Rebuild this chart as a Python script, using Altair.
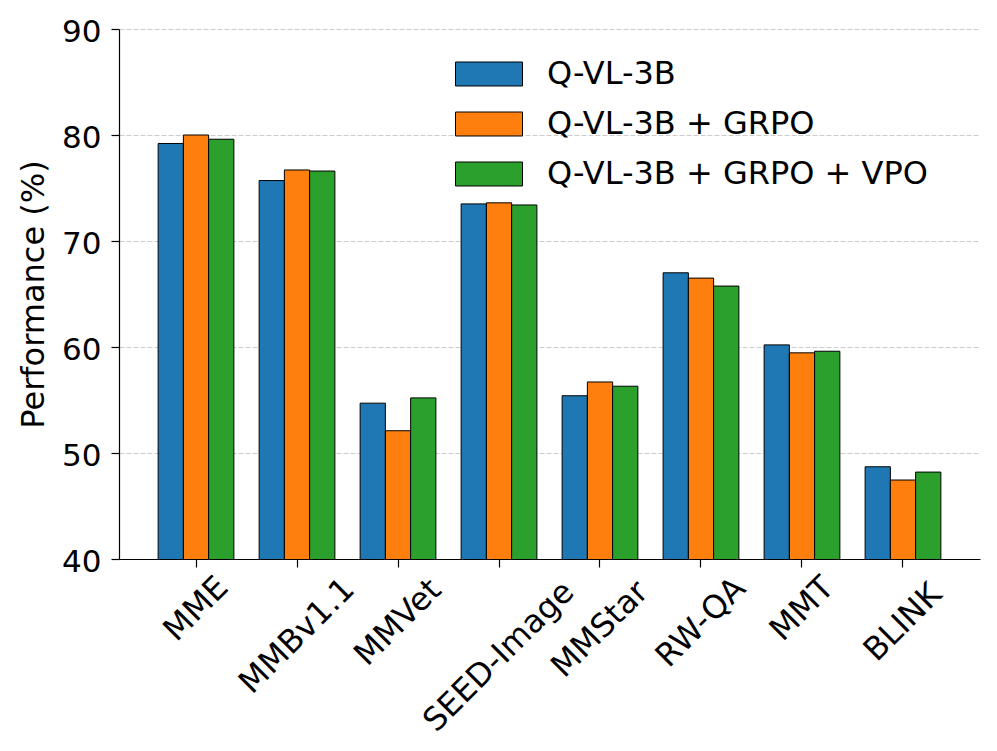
import altair as alt
import pandas as pd

categories = ["MME", "MMBv1.1", "MMVet", "SEED-Image", "MMStar", "RW-QA", "MMT", "BLINK"]
models = ["Q-VL-3B", "Q-VL-3B + GRPO", "Q-VL-3B + GRPO + VPO"]
base_vals = [79.2, 75.7, 54.7, 73.5, 55.4, 67.0, 60.2, 48.7]
grpo_vals = [80.0, 76.7, 52.1, 73.6, 56.7, 66.5, 59.45, 47.45]
vpo_vals = [79.6, 76.6, 55.2, 73.4, 56.3, 65.75, 59.6, 48.2]
colors = ["#1f77b4", "#ff7f0e", "#2ca02c"]
y_ticks = [40, 50, 60, 70, 80, 90]

rows = []
for m, vals in zip(models, [base_vals, grpo_vals, vpo_vals]):
    for c, v in zip(categories, vals):
        rows.append({"Benchmark": c, "Model": m, "Value": v})
df = pd.DataFrame(rows)

FONT = "DejaVu Sans"

chart = alt.Chart(df).mark_bar(stroke="black", strokeWidth=1, clip=True).encode(
    x=alt.X(
        "Benchmark:N",
        sort=categories,
        scale=alt.Scale(paddingInner=0.25, paddingOuter=0.3875),
        axis=alt.Axis(
            title=None,
            labelAngle=-45,
            labelAlign="center",
            labelBaseline="middle",
            labelFont=FONT,
            labelFontSize=32,
            labelColor="black",
            labelPadding={"expr": "21 + 6.8 * length(datum.label)"},
            labelLimit=500,
            tickSize=8,
            tickColor="black",
            tickWidth=1.2,
            domainColor="black",
            domainWidth=1.2,
            grid=False,
            labelOverlap=False,
        ),
    ),
    xOffset=alt.XOffset(
        "Model:N",
        sort=models,
        scale=alt.Scale(paddingInner=0, paddingOuter=0),
    ),
    y=alt.Y(
        "Value:Q",
        scale=alt.Scale(domain=[40, 90], nice=False, zero=False),
        axis=alt.Axis(
            title="Performance (%)",
            titleFont=FONT,
            titleFontSize=32,
            titleFontWeight="normal",
            titleColor="black",
            titlePadding=11,
            values=y_ticks,
            labelFont=FONT,
            labelFontSize=31,
            labelColor="black",
            labelPadding=10,
            labelOffset=3,
            tickSize=8,
            tickColor="black",
            tickWidth=1.2,
            domainColor="black",
            domainWidth=1.2,
            grid=True,
            gridColor="#cccccc",
            gridDash=[5, 2],
            gridWidth=1,
        ),
    ),
    color=alt.Color(
        "Model:N",
        sort=models,
        scale=alt.Scale(domain=models, range=colors),
        legend=alt.Legend(
            title=None,
            orient="none",
            legendX=336,
            legendY=11,
            symbolType="M-1,-0.358H1V0.358H-1Z",
            symbolSize=4489,
            symbolStrokeColor="black",
            symbolStrokeWidth=1,
            symbolOpacity=1,
            labelFont=FONT,
            labelFontSize=32,
            labelColor="black",
            labelOffset=24,
            rowPadding=-18,
            padding=0,
            labelLimit=600,
        ),
    ),
).properties(
    width=861,
    height=530,
    autosize=alt.AutoSizeParams(type="none"),
    padding={"left": 111, "top": 21, "right": 8, "bottom": 184},
).configure(
    background="white"
).configure_view(
    stroke=None
)

chart.save("out.html", embed_options={"renderer": "svg", "actions": False})
